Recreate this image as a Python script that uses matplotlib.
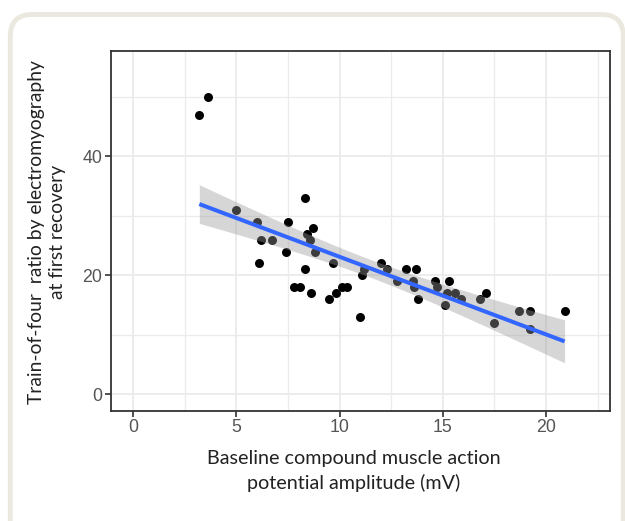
import numpy as np
import matplotlib
matplotlib.use("Agg")
import matplotlib.pyplot as plt
from matplotlib.patches import FancyBboxPatch

# Data
cmap_mv = [3.2, 3.6, 5.0, 6.0, 6.2, 6.7, 6.1, 7.4, 7.5, 8.3, 8.7, 8.4, 8.55, 8.8,
           8.3, 7.8, 8.1, 8.6, 9.7, 9.5, 9.8, 10.1, 10.35, 11.0, 11.1, 11.2,
           12.0, 12.3, 12.8, 13.2, 13.7, 13.55, 13.6, 13.8, 14.6, 14.7, 15.3,
           15.1, 15.2, 15.6, 15.9, 16.8, 17.1, 17.5, 18.7, 19.2, 19.2, 20.9]
tof_ratio = [47, 50, 31, 29, 26, 26, 22, 24, 29, 33, 28, 27, 26, 24,
             21, 18, 18, 17, 22, 16, 17, 18, 18, 13, 20, 21,
             22, 21, 19, 21, 21, 19, 18, 16, 19, 18, 19,
             15, 17, 17, 16, 16, 17, 12, 14, 14, 11, 14]
x_ticks = [0, 5, 10, 15, 20]
y_ticks = [0, 20, 40]

x = np.array(cmap_mv)
y = np.array(tof_ratio)

# linear fit with 95% band, like geom_smooth(method = "lm")
n = len(x)
slope, icept = np.polyfit(x, y, 1)
resid = y - (icept + slope * x)
s = np.sqrt(np.sum(resid**2) / (n - 2))
t_crit = 2.013  # t(0.975, df = 46)
xs = np.linspace(x.min(), x.max(), 80)
fit = icept + slope * xs
se = s * np.sqrt(1 / n + (xs - x.mean())**2 / np.sum((x - x.mean())**2))

fig = plt.figure(figsize=(6.25, 5.21), dpi=100)

# rounded beige frame behind everything
frame = FancyBboxPatch((10.3 / 625, -40 / 521), 613 / 625, (521 - 14.5 + 40) / 521,
                       boxstyle="round,pad=0,rounding_size=0.035",
                       transform=fig.transFigure, facecolor="none",
                       edgecolor="#ebe8e0", linewidth=3.5, zorder=-1,
                       mutation_aspect=625 / 521)
fig.patches.append(frame)

ax = fig.add_axes([110.6 / 625, (521 - 410.7) / 521, (610 - 110.6) / 625, 360 / 521])
ax.set_facecolor("white")

ax.scatter(x, y, s=42, color="black", linewidths=0, zorder=3)
ax.fill_between(xs, fit - t_crit * se, fit + t_crit * se, color="#999999",
                alpha=0.4, linewidth=0, zorder=4)
ax.plot(xs, fit, color="#3366FF", linewidth=2.9, zorder=5, solid_capstyle="butt")

ax.set_xlim(-1.1, 23.1)
ax.set_ylim(-2.75, 57.75)
ax.set_xticks(x_ticks)
ax.set_yticks(y_ticks)
ax.set_xticks(np.arange(2.5, 23, 5), minor=True)
ax.set_yticks([10, 30, 50], minor=True)
ax.grid(True, which="major", color="#ebebeb", linewidth=1.3, zorder=0)
ax.grid(True, which="minor", color="#ebebeb", linewidth=0.9, zorder=0)
ax.set_axisbelow(True)

for sp in ax.spines.values():
    sp.set_color("#333333")
    sp.set_linewidth(1.3)

ax.tick_params(which="major", length=4, width=1.2, color="#333333",
               labelsize=12.8, labelcolor="#555555", pad=2)
ax.tick_params(which="minor", length=0)
for lab in ax.get_xticklabels() + ax.get_yticklabels():
    lab.set_fontfamily("Liberation Sans")

fig.text(354 / 625, 1 - 471 / 521,
         "Baseline compound muscle action\npotential amplitude (mV)",
         ha="center", va="center", fontsize=14.2, family="Lato",
         color="#222222", linespacing=1.42)
fig.text(47 / 625, 1 - 232 / 521,
         "Train-of-four  ratio by electromyography\nat first recovery",
         ha="center", va="center", rotation=90, fontsize=13.9, family="Lato",
         color="#222222", linespacing=1.35)

fig.savefig("out.png", dpi=100)
